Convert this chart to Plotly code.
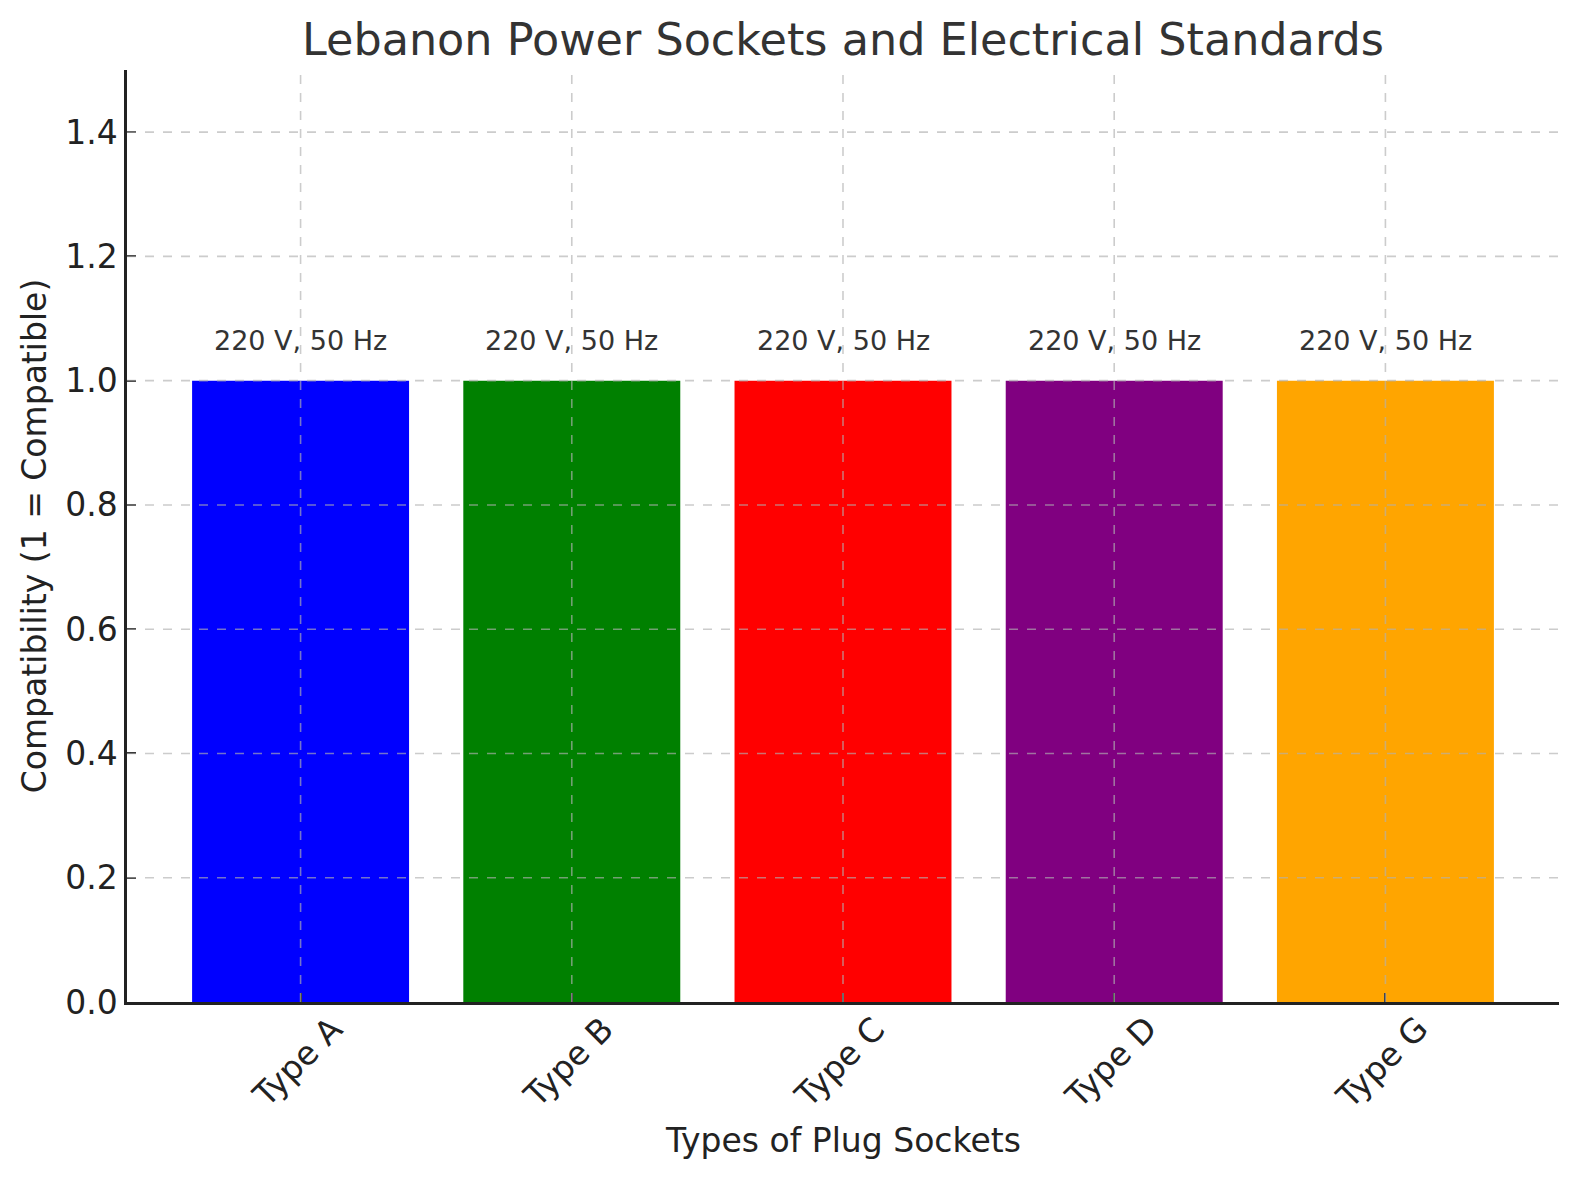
import plotly.graph_objects as go

categories = ["Type A", "Type B", "Type C", "Type D", "Type G"]
compatibility = [1, 1, 1, 1, 1]
labels = ["220 V, 50 Hz"] * 5
colors = ["blue", "green", "red", "purple", "orange"]
y_ticks = [0.0, 0.2, 0.4, 0.6, 0.8, 1.0, 1.2, 1.4]

FONT = "DejaVu Sans"
GRID = dict(color="rgba(176,176,176,0.65)", width=1.6, dash="dash")

fig = go.Figure()
fig.add_trace(go.Bar(
    x=list(range(len(categories))),
    y=compatibility,
    marker=dict(color=colors, line=dict(width=0)),
    width=0.8,
    showlegend=False,
))

shapes = []
for i in range(len(categories)):
    shapes.append(dict(type="line", xref="x", yref="paper", x0=i, x1=i, y0=0, y1=1,
                       line=GRID, layer="above"))
for t in y_ticks:
    if t == 0:
        continue
    shapes.append(dict(type="line", xref="paper", yref="y", x0=0, x1=1, y0=t, y1=t,
                       line=GRID, layer="above"))

annotations = []
for i, (v, lab) in enumerate(zip(compatibility, labels)):
    annotations.append(dict(x=i, y=v + 0.05, xref="x", yref="y", text=lab, showarrow=False,
                            yanchor="bottom", xanchor="center", yshift=-8,
                            font=dict(family=FONT, size=27, color="#333333")))
# rotated category labels (centred on the tick, like matplotlib rotation=45)
for i, cat in enumerate(categories):
    annotations.append(dict(x=i, y=0, xref="x", yref="paper", text=cat, showarrow=False,
                            textangle=-45, xanchor="center", yanchor="middle",
                            xshift=-4, yshift=-60,
                            font=dict(family=FONT, size=33, color="#222222")))
annotations.append(dict(x=0.5, y=0, xref="paper", yref="paper", text="Types of Plug Sockets",
                        showarrow=False, xanchor="center", yanchor="middle", yshift=-138,
                        font=dict(family=FONT, size=33, color="#222222")))

fig.update_layout(
    width=1580, height=1180,
    margin=dict(l=127, r=21, t=70, b=178),
    paper_bgcolor="white", plot_bgcolor="white",
    title=dict(text="Lebanon Power Sockets and Electrical Standards",
               x=0.5335, xanchor="center", y=0.967, yanchor="middle",
               font=dict(family=FONT, size=44.5, color="#333333")),
    shapes=shapes,
    annotations=annotations,
)
fig.update_xaxes(
    tickmode="array", tickvals=list(range(len(categories))), ticktext=categories,
    showticklabels=False,
    range=[-0.64, 4.64],
    showgrid=False, zeroline=False,
    showline=True, linecolor="#222222", linewidth=2.5,
    ticks="inside", ticklen=9, tickwidth=2, tickcolor="#222222",
    layer="above traces",
)
fig.update_yaxes(
    range=[0, 1.5], tickmode="array", tickvals=y_ticks,
    ticktext=[f"{t:.1f}" for t in y_ticks],
    tickfont=dict(family=FONT, size=33, color="#222222"),
    title=dict(text="Compatibility (1 = Compatible)", font=dict(family=FONT, size=33, color="#222222"),
               standoff=9),
    showgrid=False, zeroline=False,
    showline=True, linecolor="#222222", linewidth=2.5,
    ticks="inside", ticklen=9, tickwidth=2, tickcolor="#222222",
    layer="above traces",
)

fig.write_html("out.html")
